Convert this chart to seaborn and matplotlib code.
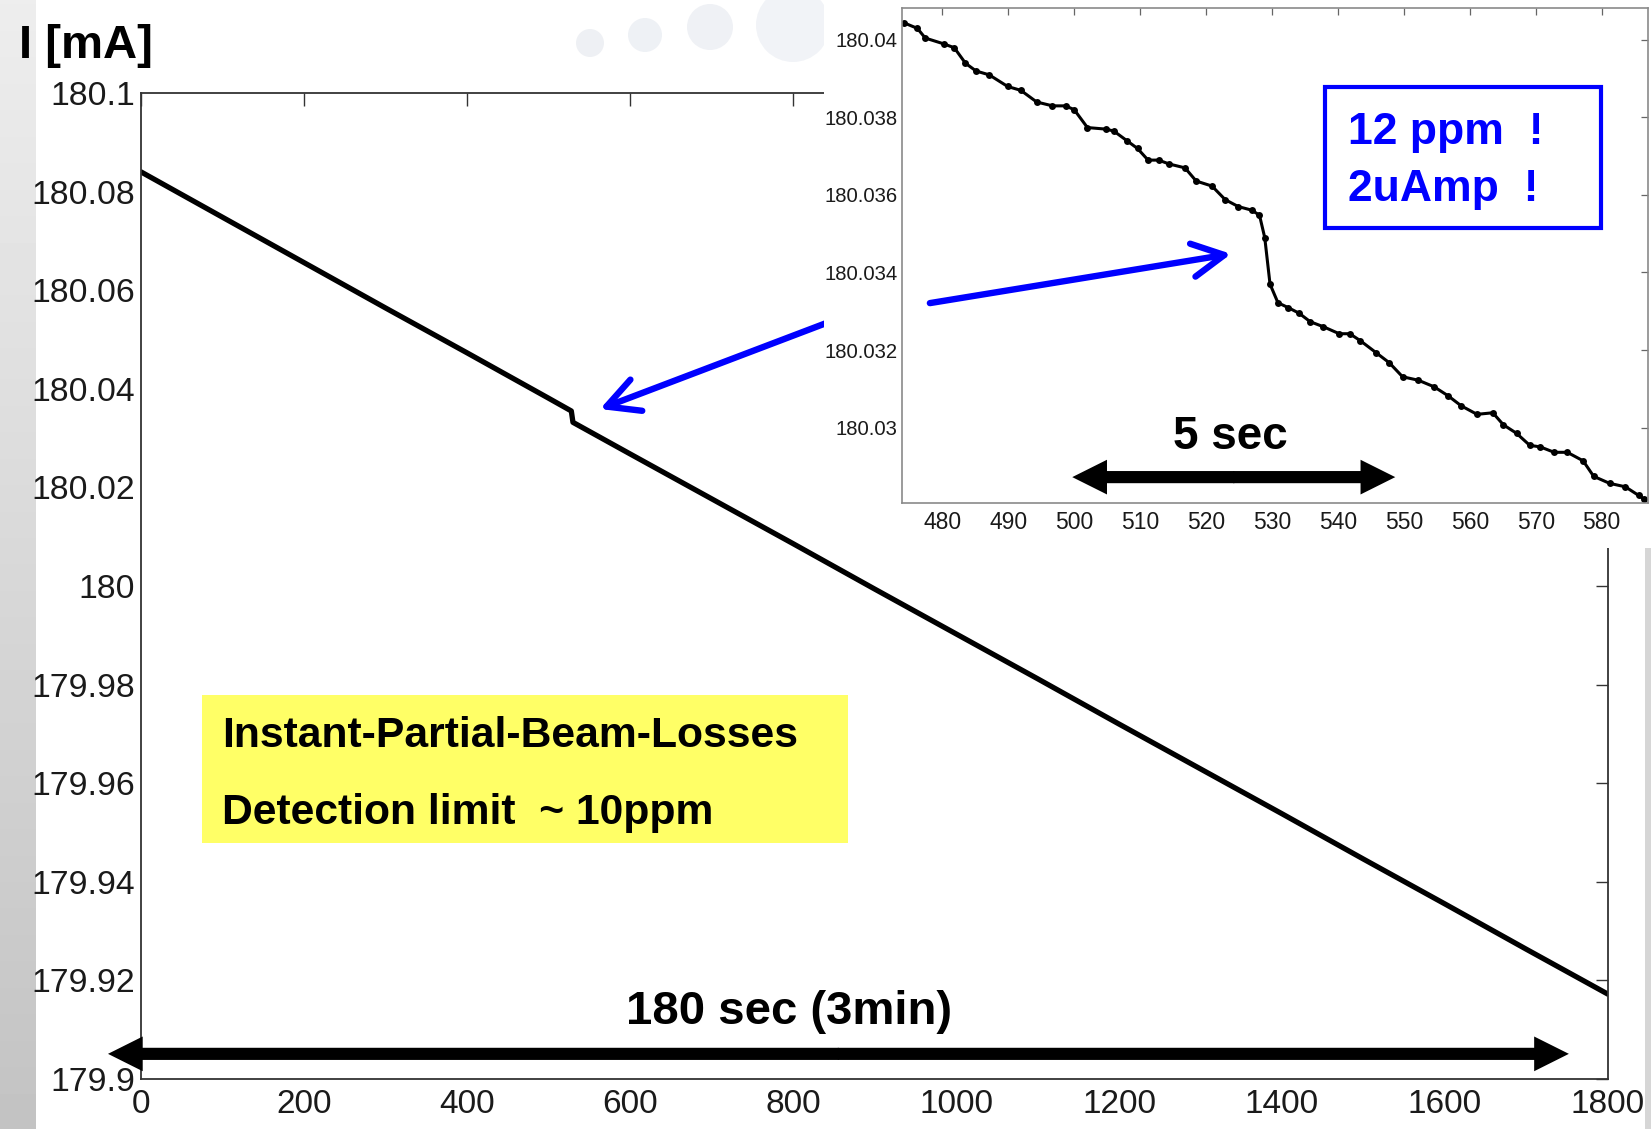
import numpy as np
import matplotlib
matplotlib.use("Agg")
import matplotlib.pyplot as plt
import seaborn as sns
from matplotlib.patches import Rectangle, Circle

sns.set_theme(style="white")
plt.rcParams['font.family'] = ['Liberation Sans', 'DejaVu Sans']
plt.rcParams['text.color'] = 'black'

# Stored beam current over the whole record (x in 0.1 s samples)
time_full = [0, 100, 200, 300, 400, 500, 528, 530, 600, 700, 800, 900,
             1000, 1100, 1200, 1300, 1400, 1500, 1600, 1700, 1800]
current_full = [180.0840, 180.0748, 180.0656, 180.0564, 180.0473, 180.0381,
                180.0355, 180.0332, 180.0268, 180.0177, 180.0086, 179.9994,
                179.9903, 179.9812, 179.9720, 179.9629, 179.9538, 179.9446,
                179.9355, 179.9263, 179.9172]

# Close-up around the partial beam loss
time_zoom = [474.2, 476.2, 477.4, 480.2, 481.8, 483.5, 485.1, 487.1, 489.9, 491.9,
             494.3, 496.7, 498.7, 500.0, 502.0, 504.8, 506.0, 508.0, 509.6, 511.2,
             512.8, 514.4, 516.8, 518.5, 520.9, 522.9, 524.9, 526.9, 528.1, 528.9,
             529.7, 530.9, 532.5, 534.1, 535.8, 537.8, 540.2, 541.8, 543.4, 545.8,
             547.8, 549.8, 552.2, 554.6, 556.7, 558.7, 561.1, 563.5, 565.1, 567.1,
             569.1, 570.7, 572.8, 574.8, 577.2, 578.8, 581.2, 583.6, 585.6, 586.4]
current_zoom = [180.04044, 180.04030, 180.04005, 180.03990, 180.03980, 180.03940, 180.03920, 180.03910, 180.03880, 180.03870,
                180.03840, 180.03830, 180.03830, 180.03820, 180.03774, 180.03770, 180.03765, 180.03740, 180.03720, 180.03690,
                180.03690, 180.03680, 180.03670, 180.03636, 180.03623, 180.03588, 180.03570, 180.03561, 180.03548, 180.03490,
                180.03370, 180.03322, 180.03309, 180.03295, 180.03273, 180.03260, 180.03242, 180.03242, 180.03224, 180.03193,
                180.03167, 180.03131, 180.03122, 180.03105, 180.03082, 180.03056, 180.03034, 180.03038, 180.03007, 180.02985,
                180.02954, 180.02950, 180.02936, 180.02936, 180.02914, 180.02874, 180.02856, 180.02847, 180.02825, 180.02816]

main_xticks = [0, 200, 400, 600, 800, 1000, 1200, 1400, 1600, 1800]
main_yticks = [179.9, 179.92, 179.94, 179.96, 179.98, 180.0, 180.02, 180.04, 180.06, 180.08, 180.1]
main_ylabels = ["179.9", "179.92", "179.94", "179.96", "179.98", "180",
                "180.02", "180.04", "180.06", "180.08", "180.1"]
zoom_xticks = [480, 490, 500, 510, 520, 530, 540, 550, 560, 570, 580]
zoom_yticks = [180.03, 180.032, 180.034, 180.036, 180.038, 180.04]
zoom_ylabels = ["180.03", "180.032", "180.034", "180.036", "180.038", "180.04"]

W, H = 1651, 1129
fig = plt.figure(figsize=(W / 100, H / 100), dpi=100)
fig.patch.set_facecolor('white')


def fx(px):
    return px / W


def fy(py):
    return 1 - py / H


# slide decoration: grey band on the left, faint bubbles at the top
ax_band = fig.add_axes([0, 0, fx(35), 1], zorder=-5)
ax_band.imshow(np.linspace(0.93, 0.765, 256)[:, None], aspect='auto', cmap='gray',
               vmin=0, vmax=1, extent=[0, 1, 0, 1])
ax_band.set_axis_off()
fig.patches.append(Rectangle((fx(1645), 0), 1 - fx(1645), fy(548), transform=fig.transFigure,
                             facecolor='#d6d6d6', lw=0, zorder=-1))
for cx, cy, r, c in [(590, 43, 14, '#eef0f4'), (645, 35, 17, '#eef1f5'),
                     (710, 27, 23, '#eff1f5'), (793, 25, 37, '#f1f3f7')]:
    fig.patches.append(Circle((cx / 100, (H - cy) / 100), r / 100, transform=fig.dpi_scale_trans,
                              facecolor=c, lw=0, zorder=-1))

# ---- main panel ----
ax = fig.add_axes([fx(141), fy(1079), fx(1608) - fx(141), fy(93) - fy(1079)], zorder=0)
ax.set_facecolor('white')
sns.lineplot(x=time_full, y=current_full, ax=ax, color='black', linewidth=3.8,
             estimator=None, sort=False)
ax.set_xlim(0, 1800)
ax.set_ylim(179.9, 180.1)
ax.set_xticks(main_xticks)
ax.set_xticklabels([str(t) for t in main_xticks])
ax.set_yticks(main_yticks)
ax.set_yticklabels(main_ylabels)
ax.set_xlabel('')
ax.set_ylabel('')
ax.tick_params(direction='in', length=9, width=1.0, top=True, right=True, color='#333333',
               labelcolor='#1a1a1a')
ax.tick_params(axis='y', labelsize=24.3, pad=4.5)
ax.tick_params(axis='x', labelsize=24, pad=7)
for s in ax.spines.values():
    s.set_color('#333333')
    s.set_linewidth(1.3)

# 180 s double arrow
arrow_big = dict(arrowstyle='simple,head_length=1.0,head_width=1.0,tail_width=0.35',
                 color='black', lw=0, mutation_scale=25, shrinkA=0, shrinkB=0)
ax.annotate('', xy=(-40.5, 179.9051), xytext=(856, 179.9051), arrowprops=arrow_big,
            annotation_clip=False)
ax.annotate('', xy=(1752, 179.9051), xytext=(855, 179.9051), arrowprops=arrow_big,
            annotation_clip=False)

# blue arrow pointing at the step in the main trace
ax.annotate('', xy=(563.2, 180.0359), xytext=(931, 180.059),
            arrowprops=dict(arrowstyle='->,head_length=1.15,head_width=0.6', color='#0000ff',
                            lw=4.6, mutation_scale=20, shrinkA=0, shrinkB=0),
            annotation_clip=False)

fig.text(fx(19), fy(58), 'I [mA]', fontsize=34, fontweight='bold', color='black',
         ha='left', va='baseline')
fig.text(fx(789), fy(1024), '180 sec (3min)', fontsize=34, fontweight='bold', color='black',
         ha='center', va='baseline', zorder=3)

# yellow note
fig.patches.append(Rectangle((fx(202), fy(843)), fx(848) - fx(202), fy(695) - fy(843),
                             transform=fig.transFigure, facecolor='#ffff66', lw=0, zorder=1))
fig.text(fx(222), fy(747), 'Instant-Partial-Beam-Losses', fontsize=30.7, fontweight='bold',
         color='black', ha='left', va='baseline', zorder=3)
fig.text(fx(222), fy(824), 'Detection limit  ~ 10ppm', fontsize=30.7, fontweight='bold',
         color='black', ha='left', va='baseline', zorder=3)

# white backing for the close-up
fig.patches.append(Rectangle((fx(824), fy(548)), 1 - fx(824), 1 - fy(548),
                             transform=fig.transFigure, facecolor='white', lw=0, zorder=1))

# ---- close-up panel ----
ax_in = fig.add_axes([fx(902), fy(503), fx(1648) - fx(902), fy(8.4) - fy(503)], zorder=2)
ax_in.set_facecolor('white')
sns.lineplot(x=time_zoom, y=current_zoom, ax=ax_in, color='black', linewidth=2.2,
             marker='o', markersize=5, markeredgewidth=0, estimator=None, sort=False)
ax_in.set_xlim(473.87, 587.04)
ax_in.set_ylim(180.028052, 180.040815)
ax_in.set_xticks(zoom_xticks)
ax_in.set_xticklabels([str(t) for t in zoom_xticks])
ax_in.set_yticks(zoom_yticks)
ax_in.set_yticklabels(zoom_ylabels)
ax_in.set_xlabel('')
ax_in.set_ylabel('')
ax_in.tick_params(direction='in', length=5, width=0.9, top=True, right=True, color='#666666',
                  labelcolor='#1a1a1a')
ax_in.tick_params(axis='x', labelsize=16.5, pad=5.5)
ax_in.tick_params(axis='y', labelsize=14.6, pad=3)
for s in ax_in.spines.values():
    s.set_color('#8a8a8a')
    s.set_linewidth(1.2)

ax_in.annotate('', xy=(499.7, 180.02872), xytext=(524.3, 180.02872), arrowprops=arrow_big)
ax_in.annotate('', xy=(548.7, 180.02872), xytext=(524.1, 180.02872), arrowprops=arrow_big)
ax_in.annotate('', xy=(523.8, 180.03448), xytext=(478.1, 180.03321),
               arrowprops=dict(arrowstyle='->,head_length=1.15,head_width=0.6', color='#0000ff',
                               lw=4.6, mutation_scale=20, shrinkA=0, shrinkB=0),
               annotation_clip=False)

fig.text(fx(1230), fy(449), '5 sec', fontsize=33, fontweight='bold', color='black',
         ha='center', va='baseline', zorder=4)

fig.patches.append(Rectangle((fx(1325), fy(228)), fx(1600.7) - fx(1325), fy(86.5) - fy(228),
                             transform=fig.transFigure, fill=False, edgecolor='#0000ff',
                             lw=3, zorder=4))
fig.text(fx(1348), fy(144), '12 ppm  !', fontsize=32, fontweight='bold', color='#0000ff',
         ha='left', va='baseline', zorder=5)
fig.text(fx(1348), fy(201), '2uAmp  !', fontsize=32, fontweight='bold', color='#0000ff',
         ha='left', va='baseline', zorder=5)

fig.savefig('out.png', dpi=100, facecolor='white')
